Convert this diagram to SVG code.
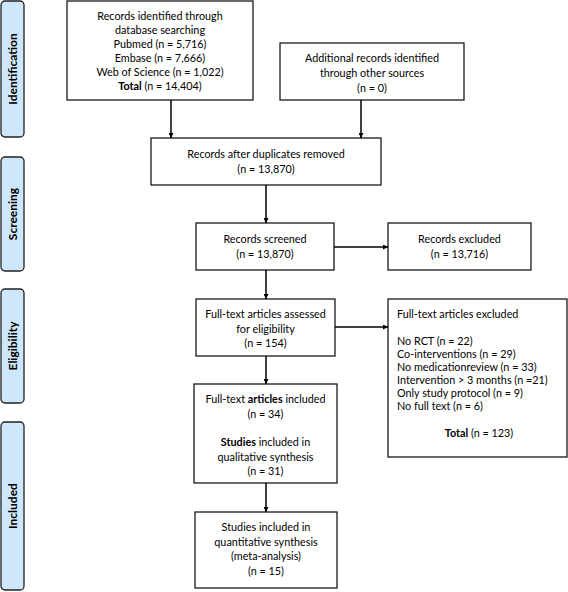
<svg xmlns="http://www.w3.org/2000/svg" width="568" height="592" viewBox="0 0 568 592">
<defs>
<marker id="ah" viewBox="0 0 10 10" refX="10" refY="5" markerWidth="5" markerHeight="5" markerUnits="userSpaceOnUse" orient="auto">
<path d="M0,0 L10,5 L0,10 z" fill="#000"/>
</marker>
<style>
.box{fill:#fff;stroke:#1a1a1a;stroke-width:1.3}
.tab{fill:#cfe7fa;stroke:#222;stroke-width:1.3}
text{font-family:Lato,"Liberation Sans",sans-serif;font-size:10.8px;fill:#000}
.c{text-anchor:middle}
.b{font-weight:bold}
.tl{font-weight:bold;font-size:12px;text-anchor:middle}
.con{stroke:#000;stroke-width:1.5;fill:none;marker-end:url(#ah)}
</style>
</defs>
<rect width="568" height="592" fill="#fff"/>
<g id="tab-identification"><rect class="tab" x="1" y="1" width="23" height="136" rx="4"/><text class="tl" transform="translate(16.5,69) rotate(-90)">Identification</text></g>
<g id="tab-screening"><rect class="tab" x="1" y="157" width="23" height="114" rx="4"/><text class="tl" transform="translate(16.5,214) rotate(-90)">Screening</text></g>
<g id="tab-eligibility"><rect class="tab" x="1" y="289" width="23" height="114" rx="4"/><text class="tl" transform="translate(16.5,346) rotate(-90)">Eligibility</text></g>
<g id="tab-included"><rect class="tab" x="1" y="422" width="23" height="168" rx="4"/><text class="tl" transform="translate(16.5,506) rotate(-90)">Included</text></g>

<g id="n-database">
<rect class="box" x="67" y="1" width="186" height="99"/>
<text class="c" x="160" y="20">Records identified through</text>
<text class="c" x="160" y="34">database searching</text>
<text class="c" x="160" y="48">Pubmed (n = 5,716)</text>
<text class="c" x="160" y="62">Embase (n = 7,666)</text>
<text class="c" x="160" y="76">Web of Science (n = 1,022)</text>
<text class="c" x="160" y="90"><tspan class="b">Total</tspan> (n = 14,404)</text>
</g>
<g id="n-other">
<rect class="box" x="280" y="43" width="184" height="57"/>
<text class="c" x="372" y="62">Additional records identified</text>
<text class="c" x="372" y="77">through other sources</text>
<text class="c" x="372" y="92">(n = 0)</text>
</g>
<g id="n-dedup">
<rect class="box" x="151" y="138" width="230" height="47"/>
<text class="c" x="266" y="158">Records after duplicates removed</text>
<text class="c" x="266" y="173">(n = 13,870)</text>
</g>
<g id="n-screened">
<rect class="box" x="196" y="223" width="138" height="47"/>
<text class="c" x="265" y="243">Records screened</text>
<text class="c" x="265" y="258">(n = 13,870)</text>
</g>
<g id="n-excluded">
<rect class="box" x="388" y="223" width="143" height="47"/>
<text class="c" x="459.5" y="243">Records excluded</text>
<text class="c" x="459.5" y="258">(n = 13,716)</text>
</g>
<g id="n-assessed">
<rect class="box" x="196" y="299" width="139" height="57"/>
<text class="c" x="265.5" y="318">Full-text articles assessed</text>
<text class="c" x="265.5" y="333">for eligibility</text>
<text class="c" x="265.5" y="347">(n = 154)</text>
</g>
<g id="n-ftexcluded">
<rect class="box" x="388" y="299" width="179" height="158"/>
<text x="397" y="318">Full-text articles excluded</text>
<text x="397" y="345">No RCT (n = 22)</text>
<text x="397" y="358">Co-interventions (n = 29)</text>
<text x="397" y="371">No medicationreview (n = 33)</text>
<text x="397" y="384">Intervention &gt; 3 months (n =21)</text>
<text x="397" y="397">Only study protocol (n = 9)</text>
<text x="397" y="410">No full text (n = 6)</text>
<text class="c" x="479" y="437"><tspan class="b">Total</tspan> (n = 123)</text>
</g>
<g id="n-included">
<rect class="box" x="194" y="384" width="143" height="99"/>
<text class="c" x="265.5" y="403">Full-text <tspan class="b">articles</tspan> included</text>
<text class="c" x="265.5" y="418">(n = 34)</text>
<text class="c" x="265.5" y="446"><tspan class="b">Studies</tspan> included in</text>
<text class="c" x="265.5" y="461">qualitative synthesis</text>
<text class="c" x="265.5" y="475">(n = 31)</text>
</g>
<g id="n-meta">
<rect class="box" x="195" y="512" width="142" height="76"/>
<text class="c" x="266" y="531">Studies included in</text>
<text class="c" x="266" y="546">quantitative synthesis</text>
<text class="c" x="266" y="560">(meta-analysis)</text>
<text class="c" x="266" y="575">(n = 15)</text>
</g>

<g id="connectors">
<line class="con" x1="171" y1="100" x2="171" y2="138"/>
<line class="con" x1="361" y1="100" x2="361" y2="138"/>
<line class="con" x1="266" y1="185" x2="266" y2="223"/>
<line class="con" x1="334" y1="247" x2="388" y2="247"/>
<line class="con" x1="266" y1="270" x2="266" y2="299"/>
<line class="con" x1="335" y1="327" x2="388" y2="327"/>
<line class="con" x1="266" y1="356" x2="266" y2="384"/>
<line class="con" x1="266" y1="483" x2="266" y2="512"/>
</g>
</svg>
